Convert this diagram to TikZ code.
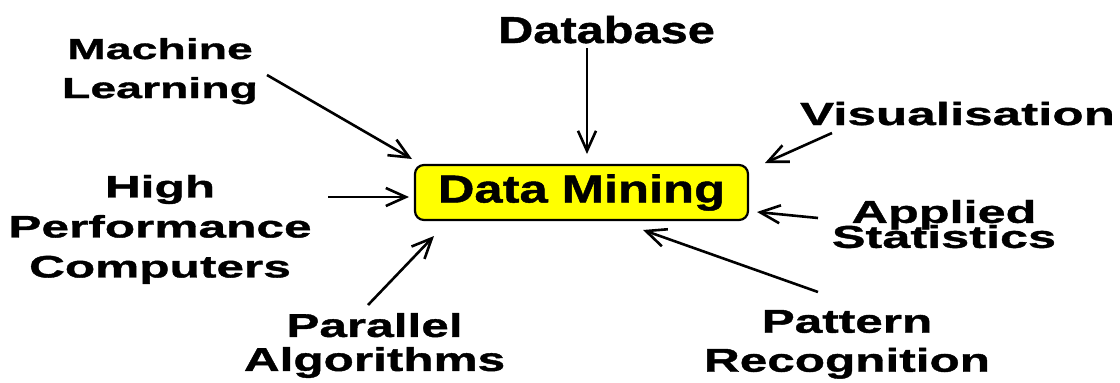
\documentclass[tikz,border=0pt]{standalone}
\usepackage{fontspec}
\setmainfont{Liberation Sans}
\newfontfamily\fA[FakeStretch=1.6,FakeBold=1.2]{Liberation Sans}
\newfontfamily\fB[FakeStretch=1.5,FakeBold=1.2]{Liberation Sans}
\newfontfamily\fC[FakeStretch=1.3,FakeBold=1.2]{Liberation Sans}
\usetikzlibrary{arrows.meta}
\definecolor{dmyellow}{RGB}{255,255,0}
\tikzset{
  lbl/.style={inner sep=0pt, outer sep=0pt, align=center, text=black},
  conn/.style={line width=2.6pt, -{Straight Barb[length=20pt,width=18pt,line width=2.6pt]}},
  dmbox/.style={draw=black, line width=2.2pt, fill=dmyellow, rounded corners=9pt,
    minimum width=333pt, minimum height=55pt, inner sep=0pt, align=center}
}
\begin{document}
\begin{tikzpicture}[x=1pt,y=-1pt]
\useasboundingbox (0,0) rectangle (1120,383);

% central node
\node[dmbox, font={\fC\bfseries\fontsize{39}{42}\selectfont}] (dm) at (581.5,192.5) {Data Mining};

% labels
\node[lbl, anchor=base, font={\fC\bfseries\fontsize{37.5}{40}\selectfont}] (db) at (606.5,43) {Database};
\node[lbl, anchor=north, font={\fA\bfseries\fontsize{29}{39}\selectfont\lineskiplimit=-100pt}] (ml) at (160,38) {Machine\\Learning};
\node[lbl, anchor=north, font={\fA\bfseries\fontsize{31}{40}\selectfont\lineskiplimit=-100pt}] (hpc) at (160,175) {High\\Performance\\Computers};
\node[lbl, anchor=base, font={\fA\bfseries\fontsize{32}{36}\selectfont}] (vis) at (957.5,125) {Visualisation};
\node[lbl, anchor=north, font={\fA\bfseries\fontsize{31.5}{25}\selectfont\lineskiplimit=-100pt}] (as) at (944,200) {Applied\\Statistics};
\node[lbl, anchor=north, font={\fB\bfseries\fontsize{33}{34}\selectfont\lineskiplimit=-100pt}] (pa) at (374.5,313) {Parallel\\Algorithms};
\node[lbl, anchor=north, font={\fB\bfseries\fontsize{33}{39}\selectfont\lineskiplimit=-100pt}] (pr) at (847,310) {Pattern\\Recognition};

% connector end points
\coordinate (dbS) at (587,48);   \coordinate (dbE) at (587,154);
\coordinate (mlS) at (267,75);   \coordinate (mlE) at (412,159);
\coordinate (hpcS) at (328,197); \coordinate (hpcE) at (409,197);
\coordinate (paS) at (368,305);  \coordinate (paE) at (434,236);
\coordinate (visS) at (832,133); \coordinate (visE) at (765,163);
\coordinate (asS) at (818,218);  \coordinate (asE) at (757,212);
\coordinate (prS) at (818,292);  \coordinate (prE) at (643,230);

\draw[conn] (dbS) -- (dbE);
\draw[conn] (mlS) -- (mlE);
\draw[conn] (hpcS) -- (hpcE);
\draw[conn] (paS) -- (paE);
\draw[conn] (visS) -- (visE);
\draw[conn] (asS) -- (asE);
\draw[conn] (prS) -- (prE);
\end{tikzpicture}
\end{document}
